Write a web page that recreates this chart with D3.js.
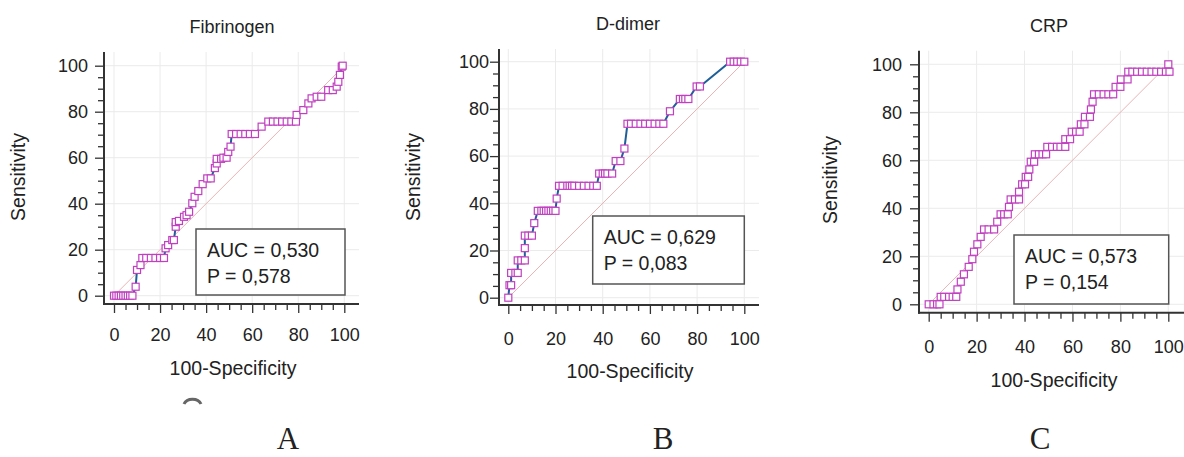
<!DOCTYPE html>
<html>
<head>
<meta charset="utf-8">
<script src="https://cdn.jsdelivr.net/npm/d3@7"></script>
<style>
  body { margin: 0; background: #fff; }
  text { font-family: "Liberation Sans", Arial, sans-serif; fill: #222; }
</style>
</head>
<body>
<script>
// chart data
var titles = ["Fibrinogen", "D-dimer", "CRP"];
var aucText = ["AUC = 0,530", "AUC = 0,629", "AUC = 0,573"];
var pText = ["P = 0,578", "P = 0,083", "P = 0,154"];
var panelLetters = ["A", "B", "C"];
var tickVals = [0, 20, 40, 60, 80, 100];
var minorVals = [5, 10, 15, 25, 30, 35, 45, 50, 55, 65, 70, 75, 85, 90, 95];

var fibX = [0, 1, 2, 3, 4, 5, 6, 7, 8, 9.4, 10, 11.5, 12.3, 14, 16, 18, 20, 21.7,
  22.4, 23.5, 25.3, 26, 26.8, 26.8, 28.2, 30.4, 31.5, 32.6, 34, 35, 36.6, 38.5, 40.5, 42, 43.8, 44.6, 44.6, 46.5, 47.5, 48.9,
  49.6, 50.6, 51.1, 53, 55, 57, 59, 61.2, 64.1, 67, 69, 71, 73, 75, 77, 79, 79.3, 82.2, 84.4, 85.8, 88, 90, 93, 95,
  96.7, 97.4, 98.1, 98.9, 99.3];
var fibY = [0, 0, 0, 0, 0, 0, 0, 0, 0, 3.9, 11.2, 13.3, 16.4, 16.4, 16.4, 16.4, 16.4, 16.4,
  20.6, 22, 24.2, 24.2, 30, 32, 32.5, 34.3, 35, 36.5, 40.2, 43, 45.5, 48.5, 51, 51, 55.5, 57.5, 59.5, 59.5, 60, 60,
  62.5, 64.8, 70.3, 70.3, 70.3, 70.3, 70.3, 70.3, 73.5, 75.7, 75.7, 75.7, 75.7, 75.7, 75.7, 75.7, 78.6, 80.7, 83.6, 85.8, 86.5, 86.5, 89.4, 89.4,
  90.9, 93, 96, 99.6, 100];

var ddX = [0, 0.5, 1.2, 1.2, 3, 4, 4, 5.5, 7, 7, 7, 8.5, 10, 11, 12.5, 14, 15, 16, 17, 18, 19, 20,
  20.5, 21.5, 23, 25, 26, 27, 28, 30, 32, 34, 36, 37.5, 38.5, 40, 41, 42, 44, 45.5, 47.5, 49.2,
  50.5, 52, 54, 56, 58, 60, 62, 64, 65.7, 68.5, 72.7, 74, 75, 76.3, 79.8, 81.2, 94, 95.5, 97, 98.5, 100];
var ddY = [0, 5.3, 5.3, 10.5, 10.5, 10.5, 15.8, 15.8, 15.8, 21, 26.3, 26.3, 26.3, 31.6, 36.8, 36.8, 36.8, 36.8, 36.8, 36.8, 36.8, 36.8,
  42, 47.4, 47.4, 47.4, 47.4, 47.4, 47.4, 47.4, 47.4, 47.4, 47.4, 47.4, 52.6, 52.6, 52.6, 52.6, 52.6, 57.9, 57.9, 63.2,
  73.7, 73.7, 73.7, 73.7, 73.7, 73.7, 73.7, 73.7, 73.7, 79, 84.2, 84.2, 84.2, 84.2, 89.5, 89.5, 100, 100, 100, 100, 100];

var crpX = [0, 2, 3.5, 4.5, 5, 6.5, 8.5, 10, 11.5, 12, 13.4, 14.7, 16.7, 18.2, 18.9, 20.3, 21.7, 23.1, 25, 27.3,
  28.6, 30, 31.5, 33, 33.5, 34.2, 36, 37.7, 37.7, 39, 40.2, 40.5, 41.5, 42, 42.6, 44, 44.3, 46, 47.5, 49,
  49.5, 51.5, 53.5, 55, 57, 57, 59, 59.7, 61.5, 63, 63.5, 65, 65.2, 67.3, 67.7, 68.4, 69, 71, 73, 75, 77,
  78, 80, 80.2, 83, 83.3, 85, 87, 89, 91, 93, 95, 97, 99, 100.5, 100];
var crpY = [0, 0, 0, 0, 3.1, 3.1, 3.1, 3.1, 3.1, 6.2, 9.4, 12.5, 15.6, 18.8, 21.9, 25, 28.1, 31.2, 31.2, 31.2,
  34.4, 37.5, 37.5, 37.5, 40.6, 43.7, 43.7, 43.7, 46.9, 50, 50, 53.1, 53.1, 56.2, 59.4, 59.4, 62.5, 62.5, 62.5, 62.5,
  65.6, 65.6, 65.6, 65.6, 65.6, 68.8, 68.8, 71.9, 71.9, 71.9, 75, 75, 78.1, 78.1, 81.2, 84.4, 87.5, 87.5, 87.5, 87.5, 87.5,
  90.6, 90.6, 93.7, 93.7, 96.9, 96.9, 96.9, 96.9, 96.9, 96.9, 96.9, 96.9, 96.9, 96.9, 100];

var seriesX = [fibX, ddX, crpX];
var seriesY = [fibY, ddY, crpY];

// layout of the three panels (pixel positions)
var layout = [
  { x0: 114, x1: 344.3, y0: 295.7, y1: 65.7, axX: 104, axY: 304, top: 52, right: 359,
    ylabPad: 7, xlabBase: 37, titleX: 232, titleY: 33, xtX: 233, xtY: 375, ytX: 18, ytY: 177,
    box: [196, 229, 149, 66], letterX: 288 },
  { x0: 508.3, x1: 744.3, y0: 297.7, y1: 61.7, axX: 499, axY: 305, top: 49, right: 759,
    ylabPad: 1, xlabBase: 40, titleX: 628, titleY: 30, xtX: 630, xtY: 378, ytX: 413, ytY: 177,
    box: [592.7, 216, 151.6, 68], letterX: 663 },
  { x0: 928.7, x1: 1168.3, y0: 304.3, y1: 64.3, axX: 919, axY: 312.7, top: 50.7, right: 1190,
    ylabPad: 8, xlabBase: 40, titleX: 1049, titleY: 32, xtX: 1054, xtY: 387, ytX: 830, ytY: 180,
    box: [1014, 235, 154.7, 69], letterX: 1040 }
];

var svg = d3.select("body").append("svg")
  .attr("width", 1184)
  .attr("height", 457);

layout.forEach(function(L, i) {
  var x = d3.scaleLinear().domain([0, 100]).range([L.x0, L.x1]);
  var y = d3.scaleLinear().domain([0, 100]).range([L.y0, L.y1]);
  var g = svg.append("g");

  // grid
  g.selectAll(".gx").data(tickVals).enter().append("line")
    .attr("x1", d => x(d)).attr("x2", d => x(d))
    .attr("y1", L.top).attr("y2", L.axY)
    .attr("stroke", "#ebebeb").attr("stroke-width", 1);
  g.selectAll(".gy").data(tickVals).enter().append("line")
    .attr("x1", L.axX).attr("x2", L.right)
    .attr("y1", d => y(d)).attr("y2", d => y(d))
    .attr("stroke", "#ebebeb").attr("stroke-width", 1);

  // reference diagonal
  g.append("line")
    .attr("x1", x(0)).attr("y1", y(0)).attr("x2", x(100)).attr("y2", y(100))
    .attr("stroke", "#eab4b4").attr("stroke-width", 1);

  // axes
  var yAxis = d3.axisLeft(y).tickValues(tickVals).tickSize(9).tickSizeOuter(0).tickPadding(L.ylabPad);
  var yMinor = d3.axisLeft(y).tickValues(minorVals).tickSize(6).tickSizeOuter(0).tickFormat("");
  var xAxis = d3.axisBottom(x).tickValues(tickVals).tickSize(9).tickSizeOuter(0);
  var xMinor = d3.axisBottom(x).tickValues(minorVals).tickSize(6).tickSizeOuter(0).tickFormat("");

  var axGroups = [];
  [yAxis, yMinor].forEach(function(ax) {
    var a = g.append("g").attr("transform", "translate(" + L.axX + ",0)").call(ax);
    a.select(".domain").remove();
    axGroups.push(a);
  });
  var xGroups = [];
  [xAxis, xMinor].forEach(function(ax) {
    var a = g.append("g").attr("transform", "translate(0," + L.axY + ")").call(ax);
    a.select(".domain").remove();
    axGroups.push(a);
    xGroups.push(a);
  });
  axGroups.forEach(function(a) {
    a.selectAll(".tick line").attr("stroke", "#333").attr("stroke-width", 1.3);
    a.selectAll(".tick text").style("font-size", "18px").attr("fill", "#222")
      .style("font-family", "'Liberation Sans', Arial, sans-serif");
  });
  xGroups[0].selectAll(".tick text").attr("dy", null).attr("y", L.xlabBase);

  g.append("line").attr("x1", L.axX).attr("x2", L.axX).attr("y1", L.top).attr("y2", L.axY + 1)
    .attr("stroke", "#333").attr("stroke-width", 2);
  g.append("line").attr("x1", L.axX - 1).attr("x2", L.right).attr("y1", L.axY).attr("y2", L.axY)
    .attr("stroke", "#333").attr("stroke-width", 2);

  // curve
  var pts = seriesX[i].map((v, k) => [v, seriesY[i][k]]);
  var line = d3.line().x(d => x(d[0])).y(d => y(d[1]));
  g.append("path").datum(pts).attr("d", line)
    .attr("fill", "none").attr("stroke", "#1f5f99").attr("stroke-width", 2);

  g.selectAll(".pt").data(pts).enter().append("rect")
    .attr("x", d => x(d[0]) - 3.5).attr("y", d => y(d[1]) - 3.5)
    .attr("width", 7).attr("height", 7)
    .attr("fill", "#fff").attr("stroke", "#c040c0").attr("stroke-width", 1.2);

  // legend box
  g.append("rect")
    .attr("x", L.box[0]).attr("y", L.box[1]).attr("width", L.box[2]).attr("height", L.box[3])
    .attr("fill", "#fff").attr("stroke", "#555").attr("stroke-width", 1.5);
  g.append("text").attr("x", L.box[0] + 11).attr("y", L.box[1] + 28)
    .style("font-size", "19.5px").text(aucText[i]);
  g.append("text").attr("x", L.box[0] + 11).attr("y", L.box[1] + 54)
    .style("font-size", "19.5px").text(pText[i]);

  // titles
  g.append("text").attr("x", L.titleX).attr("y", L.titleY).attr("text-anchor", "middle")
    .style("font-size", "18px").text(titles[i]);
  g.append("text").attr("x", L.xtX).attr("y", L.xtY).attr("text-anchor", "middle")
    .style("font-size", "19.5px").text("100-Specificity");
  g.append("text").attr("transform", "translate(" + (L.ytX + 7) + "," + L.ytY + ") rotate(-90)")
    .attr("text-anchor", "middle").style("font-size", "19.5px").text("Sensitivity");

  // panel letter
  svg.append("text").attr("x", L.letterX).attr("y", 449).attr("text-anchor", "middle")
    .style("font-family", "'Liberation Serif', 'Times New Roman', serif")
    .style("font-size", "31px").attr("fill", "#000").text(panelLetters[i]);
});

// small grey arc left at the bottom of panel A
svg.append("path")
  .attr("d", "M184,404 A9,7 0 0 1 201,404")
  .attr("fill", "none").attr("stroke", "#666").attr("stroke-width", 3);
</script>
</body>
</html>
